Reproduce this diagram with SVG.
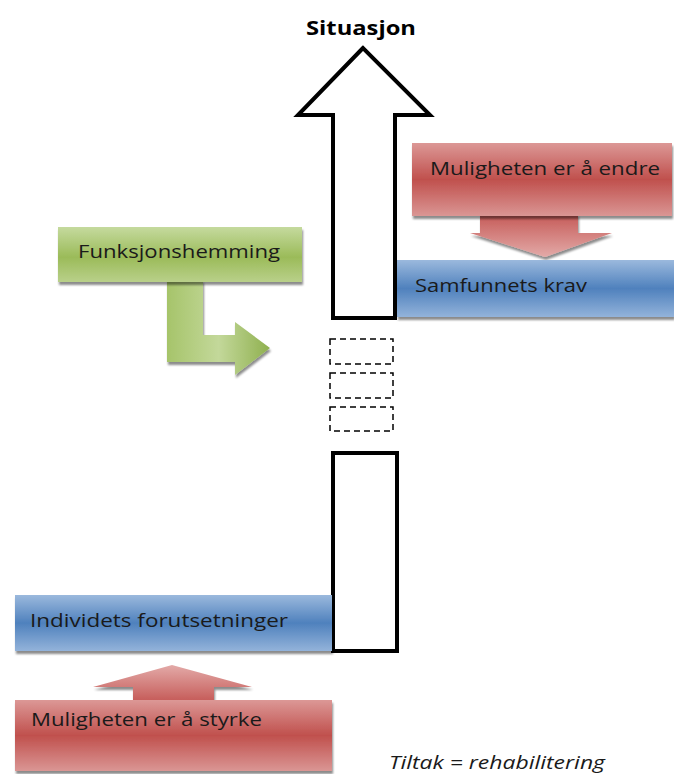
<svg xmlns="http://www.w3.org/2000/svg" width="674" height="774" viewBox="0 0 674 774">
<defs>
<linearGradient id="gRed" x1="0" y1="0" x2="0" y2="1">
<stop offset="0" stop-color="#dc9896"/><stop offset="0.5" stop-color="#c0504d"/><stop offset="1" stop-color="#da9694"/>
</linearGradient>
<linearGradient id="gRedA" x1="0" y1="0" x2="0" y2="1">
<stop offset="0" stop-color="#c55a57"/><stop offset="1" stop-color="#e3aaa8"/>
</linearGradient>
<linearGradient id="gRedB" x1="0" y1="0" x2="0" y2="1">
<stop offset="0" stop-color="#e3aaa8"/><stop offset="1" stop-color="#c55a57"/>
</linearGradient>
<linearGradient id="gBlue" x1="0" y1="0" x2="0" y2="1">
<stop offset="0" stop-color="#9bb9dd"/><stop offset="0.5" stop-color="#4f81bd"/><stop offset="1" stop-color="#93b3da"/>
</linearGradient>
<linearGradient id="gGreen" x1="0" y1="0" x2="0" y2="1">
<stop offset="0" stop-color="#c5da9e"/><stop offset="0.55" stop-color="#9bbb59"/><stop offset="1" stop-color="#b9d08a"/>
</linearGradient>
<linearGradient id="gGreenA" x1="0" y1="0" x2="1" y2="0">
<stop offset="0" stop-color="#a6c46a"/><stop offset="0.5" stop-color="#c3d89a"/><stop offset="1" stop-color="#8fb04f"/>
</linearGradient>
<filter id="sh" x="-5%" y="-5%" width="110%" height="120%">
<feDropShadow dx="1" dy="3" stdDeviation="1" flood-color="#000" flood-opacity="0.45"/>
</filter>
</defs>
<style>
.t{font-family:"Open Sans","Liberation Sans",Arial,sans-serif;font-size:19px;fill:#1a1a1a}
.o{fill:#fff;stroke:#000;stroke-width:4}
.d{fill:none;stroke:#000;stroke-width:1.5;stroke-dasharray:6 4}
</style>
<rect width="674" height="774" fill="#fff"/>
<g id="situasjon">
<text x="306" y="35" font-family="Open Sans, Liberation Sans, Arial, sans-serif" font-size="20" font-weight="bold" fill="#000" textLength="110" lengthAdjust="spacingAndGlyphs">Situasjon</text>
<path class="o" d="M363 48 L298 115 L333 115 L333 318 L395 318 L395 115 L430 115 Z"/>
</g>
<g id="gap">
<rect class="d" x="330" y="339" width="63" height="25"/>
<rect class="d" x="330" y="373" width="63" height="25"/>
<rect class="d" x="330" y="407" width="63" height="24"/>
</g>
<g id="lower">
<rect class="o" x="333" y="453" width="64" height="198"/>
</g>
<g id="mulighet-endre">
<path d="M480 214 L578 214 L578 233 L612 233 L545 257 L470 233 L480 233 Z" fill="url(#gRedA)" filter="url(#sh)"/>
<rect x="412" y="143" width="260" height="73" fill="url(#gRed)" filter="url(#sh)"/>
<text class="t" x="430" y="175" textLength="230" lengthAdjust="spacingAndGlyphs">Muligheten er å endre</text>
</g>
<g id="samfunnets-krav">
<rect x="397" y="260" width="277" height="57" fill="url(#gBlue)" filter="url(#sh)"/>
<text class="t" x="415" y="292" textLength="172" lengthAdjust="spacingAndGlyphs">Samfunnets krav</text>
</g>
<g id="funksjonshemming">
<path d="M167 280 L203 280 L203 335 L235 335 L235 322 L270 348 L235 375 L235 362 L167 362 Z" fill="url(#gGreenA)" filter="url(#sh)"/>
<rect x="58" y="227" width="244" height="55" fill="url(#gGreen)" filter="url(#sh)"/>
<text class="t" x="78" y="258" textLength="202" lengthAdjust="spacingAndGlyphs">Funksjonshemming</text>
</g>
<g id="individets-forutsetninger">
<rect x="15" y="595" width="317" height="56" fill="url(#gBlue)" filter="url(#sh)"/>
<text class="t" x="30" y="627" textLength="258" lengthAdjust="spacingAndGlyphs">Individets forutsetninger</text>
</g>
<g id="mulighet-styrke">
<path d="M133 702 L214 702 L214 687 L252 687 L172 665 L93 687 L133 687 Z" fill="url(#gRedB)" filter="url(#sh)"/>
<rect x="15" y="700" width="317" height="71" fill="url(#gRed)" filter="url(#sh)"/>
<text class="t" x="31" y="726" textLength="231" lengthAdjust="spacingAndGlyphs">Muligheten er å styrke</text>
</g>
<g id="tiltak">
<text x="389" y="769" font-family="Open Sans, Liberation Sans, Arial, sans-serif" font-size="18" font-style="italic" fill="#1a1a1a" textLength="216" lengthAdjust="spacingAndGlyphs">Tiltak = rehabilitering</text>
</g>
</svg>
